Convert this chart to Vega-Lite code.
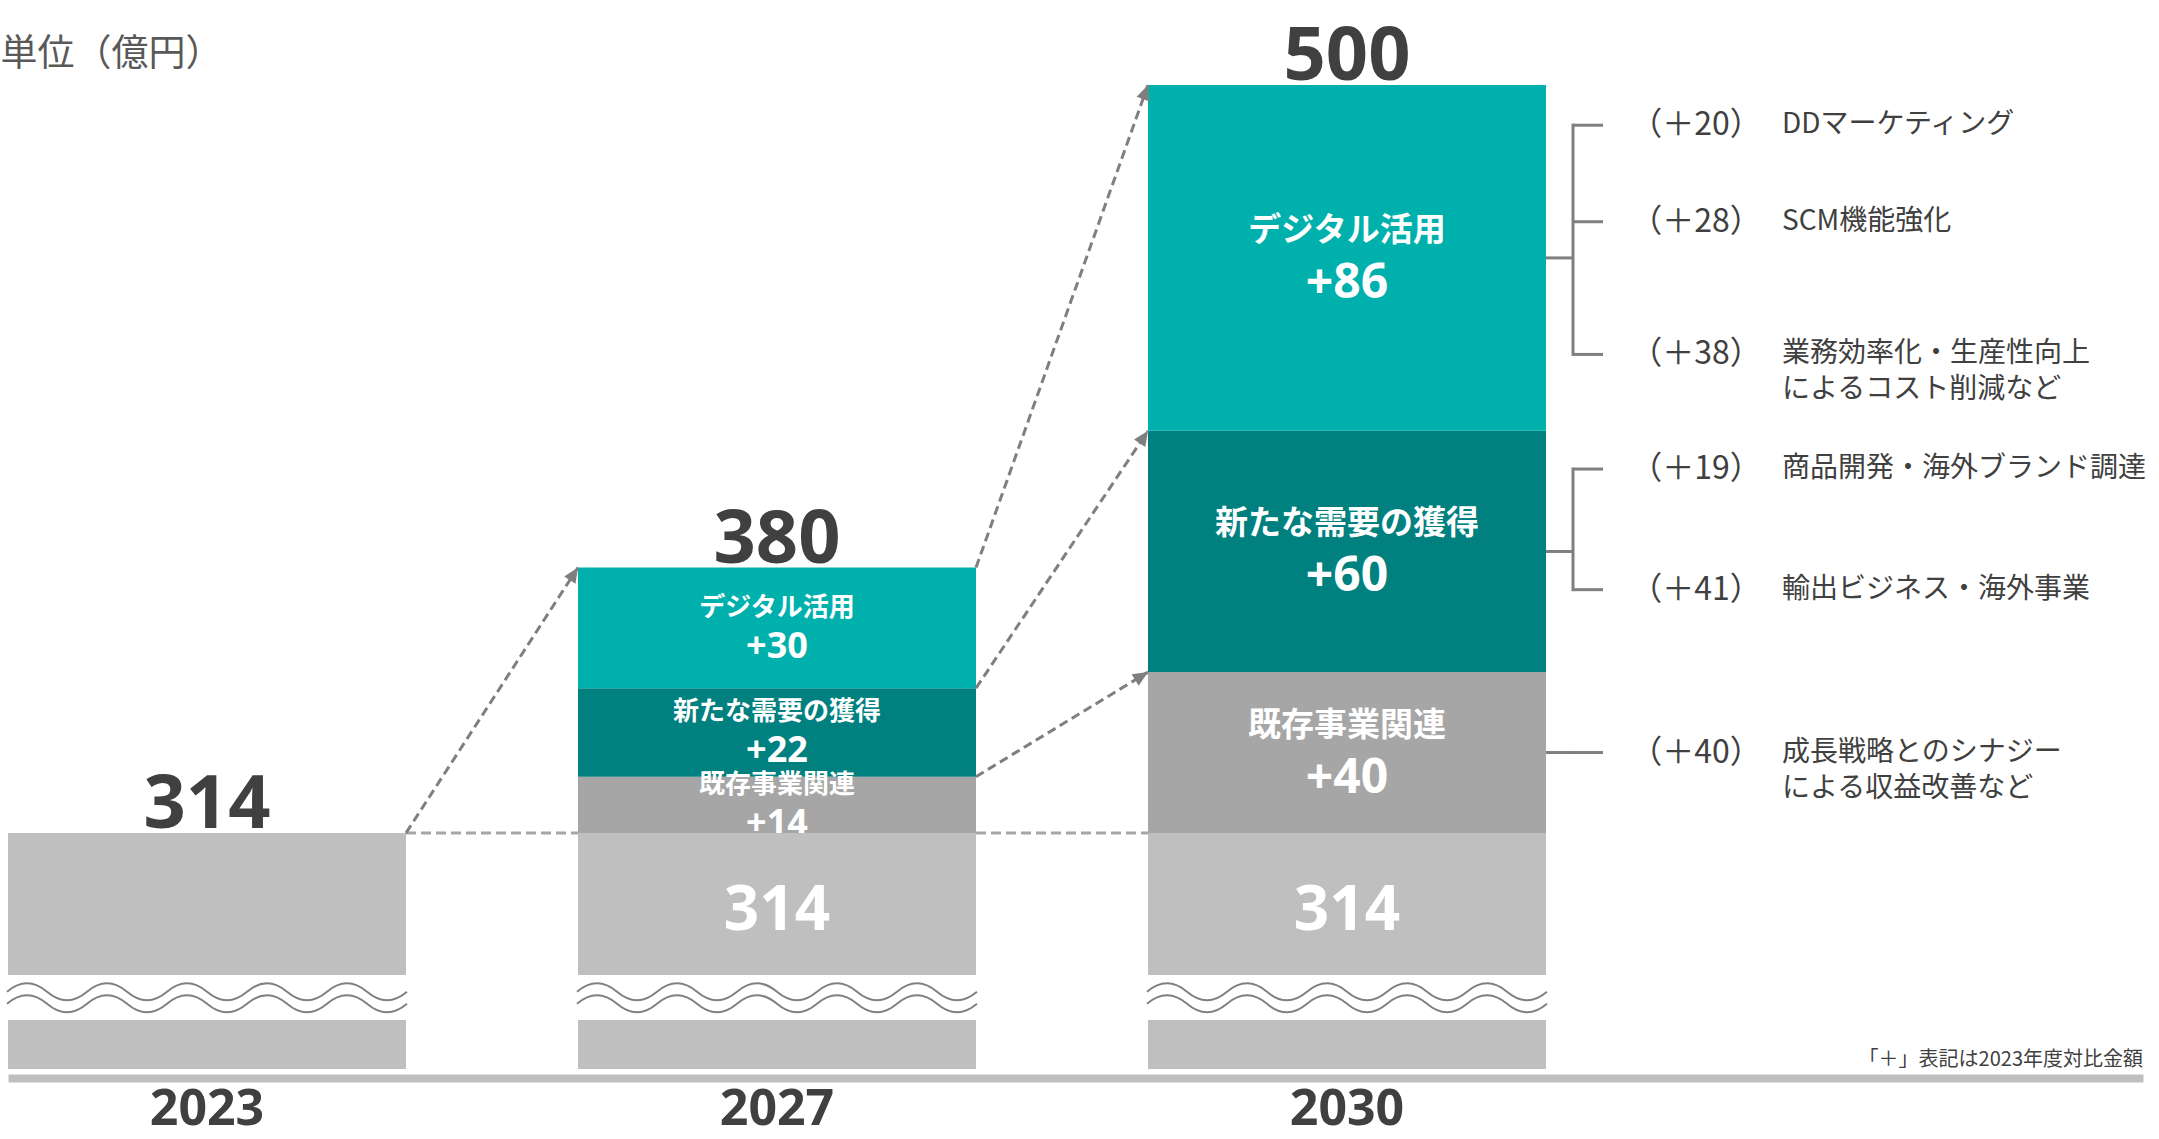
{
  "$schema": "https://vega.github.io/schema/vega-lite/v6.json",
  "width": 2135,
  "height": 1069,
  "autosize": {"type": "none"},
  "padding": {"left": 8, "top": 0, "right": 16, "bottom": 70},
  "background": "white",
  "config": {"view": {"stroke": null}},
  "datasets": {
    "segments": [
      {"year": "2023", "cat": "base", "k": 0, "value": 314},
      {"year": "2027", "cat": "base", "k": 0, "value": 314},
      {"year": "2027", "cat": "既存事業関連", "k": 1, "value": 14},
      {"year": "2027", "cat": "新たな需要の獲得", "k": 2, "value": 22},
      {"year": "2027", "cat": "デジタル活用", "k": 3, "value": 30},
      {"year": "2030", "cat": "base", "k": 0, "value": 314},
      {"year": "2030", "cat": "既存事業関連", "k": 1, "value": 40},
      {"year": "2030", "cat": "新たな需要の獲得", "k": 2, "value": 60},
      {"year": "2030", "cat": "デジタル活用", "k": 3, "value": 86}
    ],
    "items": [
      {"year": "2030", "cat": "base", "k": 0, "amt": 314, "desc": ""},
      {"year": "2030", "cat": "既存事業関連", "k": 1, "amt": 40, "desc": ["成長戦略とのシナジー", "による収益改善など"]},
      {"year": "2030", "cat": "新たな需要の獲得", "k": 2, "amt": 41, "desc": "輸出ビジネス・海外事業"},
      {"year": "2030", "cat": "新たな需要の獲得", "k": 3, "amt": 19, "desc": "商品開発・海外ブランド調達"},
      {"year": "2030", "cat": "デジタル活用", "k": 4, "amt": 38, "desc": ["業務効率化・生産性向上", "によるコスト削減など"]},
      {"year": "2030", "cat": "デジタル活用", "k": 5, "amt": 28, "desc": "SCM機能強化"},
      {"year": "2030", "cat": "デジタル活用", "k": 6, "amt": 20, "desc": "DDマーケティング"}
    ],
    "links": [
      {"from": "2023", "to": "2027", "y0": 314, "y1": 380},
      {"from": "2027", "to": "2030", "y0": 380, "y1": 500},
      {"from": "2027", "to": "2030", "y0": 350, "y1": 414},
      {"from": "2027", "to": "2030", "y0": 328, "y1": 354}
    ],
    "level": [{"from": "2023", "to": "2030", "value": 314}]
  },
  "layer": [
    {
      "data": {"name": "segments"},
      "transform": [
        {"stack": "value", "groupby": ["year"], "sort": [{"field": "k", "order": "ascending"}], "as": ["v0", "v1"]}
      ],
      "mark": {"type": "bar"},
      "encoding": {
        "x": {
          "field": "year", "type": "nominal",
          "scale": {"type": "band", "domain": ["2023", "2027", "2030"], "paddingInner": 0.301754, "paddingOuter": 0.523684, "align": 0, "round": false},
          "axis": {
            "title": null, "orient": "bottom", "offset": 9, "domain": true, "domainColor": "#BFBFBF", "domainWidth": 8,
            "ticks": false, "tickSize": 0, "grid": false, "labelAngle": 0,
            "labelFont": "Noto Sans", "labelFontSize": 50, "labelFontWeight": "bold", "labelColor": "#404040",
            "labelPadding": 31, "labelBaseline": "middle"
          }
        },
        "y": {
          "field": "v1", "type": "quantitative",
          "scale": {"domain": [255.3, 521.14], "clamp": true, "zero": false, "nice": false},
          "axis": {
            "title": "単位（億円）", "titleAngle": 0, "titleAlign": "left", "titleBaseline": "middle",
            "titleX": -8, "titleY": 54, "titleFont": "Noto Sans CJK JP", "titleFontSize": 37,
            "titleFontWeight": "normal", "titleColor": "#595959",
            "labels": false, "ticks": false, "domain": false, "grid": false
          }
        },
        "y2": {"field": "v0"},
        "color": {
          "field": "cat", "type": "nominal",
          "scale": {"domain": ["base", "既存事業関連", "新たな需要の獲得", "デジタル活用"], "range": ["#BFBFBF", "#A6A6A6", "#00807F", "#00B0AD"]},
          "legend": null
        }
      }
    },
    {
      "data": {"name": "level"},
      "mark": {"type": "rule", "color": "#A6A6A6", "strokeWidth": 3, "strokeDash": [10, 5]},
      "encoding": {
        "x": {"field": "from", "type": "nominal", "bandPosition": 1},
        "x2": {"field": "to", "bandPosition": 0},
        "y": {"field": "value", "type": "quantitative"}
      }
    },
    {
      "data": {"name": "segments"},
      "transform": [
        {"stack": "value", "groupby": ["year"], "sort": [{"field": "k", "order": "ascending"}], "as": ["v0", "v1"]},
        {"calculate": "(datum.v0 + datum.v1) / 2", "as": "mid"},
        {"filter": "datum.year == '2027' && datum.cat != 'base'"}
      ],
      "mark": {"type": "text", "font": "Noto Sans CJK JP", "fontWeight": "bold", "fontSize": 26, "color": "white", "baseline": "middle", "dy": -20},
      "encoding": {
        "x": {"field": "year", "type": "nominal"},
        "y": {"field": "mid", "type": "quantitative"},
        "text": {"field": "cat"}
      }
    },
    {
      "data": {"name": "segments"},
      "transform": [
        {"stack": "value", "groupby": ["year"], "sort": [{"field": "k", "order": "ascending"}], "as": ["v0", "v1"]},
        {"calculate": "(datum.v0 + datum.v1) / 2", "as": "mid"},
        {"calculate": "'+' + datum.value", "as": "lbl"},
        {"filter": "datum.year == '2027' && datum.cat != 'base'"}
      ],
      "mark": {"type": "text", "font": "Noto Sans", "fontWeight": "bold", "fontSize": 36, "color": "white", "baseline": "middle", "dy": 19},
      "encoding": {
        "x": {"field": "year", "type": "nominal"},
        "y": {"field": "mid", "type": "quantitative"},
        "text": {"field": "lbl"}
      }
    },
    {
      "data": {"name": "segments"},
      "transform": [
        {"stack": "value", "groupby": ["year"], "sort": [{"field": "k", "order": "ascending"}], "as": ["v0", "v1"]},
        {"filter": "datum.cat == 'base'"}
      ],
      "mark": {"type": "bar", "color": "#BFBFBF"},
      "encoding": {
        "x": {"field": "year", "type": "nominal"},
        "y": {"field": "v1", "type": "quantitative"},
        "y2": {"field": "v0"}
      }
    },
    {
      "data": {"name": "segments"},
      "transform": [{"filter": "datum.cat == 'base'"}],
      "mark": {"type": "bar", "color": "white"},
      "encoding": {
        "x": {"field": "year", "type": "nominal"},
        "y": {"datum": 278.7},
        "y2": {"datum": 267.5}
      }
    },
    {
      "data": {"name": "segments"},
      "transform": [{"filter": "datum.cat == 'base'"}],
      "mark": {
        "type": "point",
        "shape": "M-1,-0.03Q-0.9,-0.115,-0.8,-0.03T-0.6,-0.03T-0.4,-0.03T-0.2,-0.03T0,-0.03T0.2,-0.03T0.4,-0.03T0.6,-0.03T0.8,-0.03T1,-0.03M-1,0.03Q-0.9,-0.055,-0.8,0.03T-0.6,0.03T-0.4,0.03T-0.2,0.03T0,0.03T0.2,0.03T0.4,0.03T0.6,0.03T0.8,0.03T1,0.03",
        "size": 160000, "filled": false, "color": "#808080", "strokeWidth": 2, "opacity": 1
      },
      "encoding": {
        "x": {"field": "year", "type": "nominal"},
        "y": {"datum": 273}
      }
    },
    {
      "data": {"name": "links"},
      "mark": {"type": "rule", "color": "#7F7F7F", "strokeWidth": 3, "strokeDash": [9, 5]},
      "encoding": {
        "x": {"field": "from", "type": "nominal", "bandPosition": 1},
        "x2": {"field": "to", "bandPosition": 0},
        "y": {"field": "y0", "type": "quantitative"},
        "y2": {"field": "y1"}
      }
    },
    {
      "data": {"name": "links"},
      "mark": {
        "type": "point", "shape": "M0,0L-0.45,1L0.45,1Z", "size": 900, "filled": true, "color": "#7F7F7F", "opacity": 1,
        "angle": {"expr": "atan2(scale('x', datum.to) - scale('x', datum.from) - bandwidth('x'), scale('y', datum.y0) - scale('y', datum.y1)) * 180 / PI"}
      },
      "encoding": {
        "x": {"field": "to", "type": "nominal", "bandPosition": 0},
        "y": {"field": "y1", "type": "quantitative"}
      }
    },
    {
      "data": {"name": "segments"},
      "transform": [{"aggregate": [{"op": "sum", "field": "value", "as": "total"}], "groupby": ["year"]}],
      "mark": {"type": "text", "font": "Noto Sans", "fontWeight": "bold", "fontSize": 74, "color": "#404040", "baseline": "alphabetic", "dy": -5},
      "encoding": {
        "x": {"field": "year", "type": "nominal"},
        "y": {"field": "total", "type": "quantitative"},
        "text": {"field": "total"}
      }
    },
    {
      "data": {"name": "segments"},
      "transform": [
        {"stack": "value", "groupby": ["year"], "sort": [{"field": "k", "order": "ascending"}], "as": ["v0", "v1"]},
        {"calculate": "(datum.v0 + datum.v1) / 2", "as": "mid"},
        {"filter": "datum.year == '2030' && datum.cat != 'base'"}
      ],
      "mark": {"type": "text", "font": "Noto Sans CJK JP", "fontWeight": "bold", "fontSize": 33, "color": "white", "baseline": "middle", "dy": -27},
      "encoding": {
        "x": {"field": "year", "type": "nominal"},
        "y": {"field": "mid", "type": "quantitative"},
        "text": {"field": "cat"}
      }
    },
    {
      "data": {"name": "segments"},
      "transform": [
        {"stack": "value", "groupby": ["year"], "sort": [{"field": "k", "order": "ascending"}], "as": ["v0", "v1"]},
        {"calculate": "(datum.v0 + datum.v1) / 2", "as": "mid"},
        {"calculate": "'+' + datum.value", "as": "lbl"},
        {"filter": "datum.year == '2030' && datum.cat != 'base'"}
      ],
      "mark": {"type": "text", "font": "Noto Sans", "fontWeight": "bold", "fontSize": 48, "color": "white", "baseline": "middle", "dy": 26},
      "encoding": {
        "x": {"field": "year", "type": "nominal"},
        "y": {"field": "mid", "type": "quantitative"},
        "text": {"field": "lbl"}
      }
    },
    {
      "data": {"name": "segments"},
      "transform": [
        {"stack": "value", "groupby": ["year"], "sort": [{"field": "k", "order": "ascending"}], "as": ["v0", "v1"]},
        {"filter": "datum.cat == 'base' && datum.year != '2023'"}
      ],
      "mark": {"type": "text", "font": "Noto Sans", "fontWeight": "bold", "fontSize": 62, "color": "white", "baseline": "middle", "dy": 78},
      "encoding": {
        "x": {"field": "year", "type": "nominal"},
        "y": {"field": "v1", "type": "quantitative"},
        "text": {"field": "value"}
      }
    },
    {
      "data": {"name": "segments"},
      "transform": [
        {"stack": "value", "groupby": ["year"], "sort": [{"field": "k", "order": "ascending"}], "as": ["v0", "v1"]},
        {"calculate": "(datum.v0 + datum.v1) / 2", "as": "mid"},
        {"filter": "datum.year == '2030' && datum.cat != 'base'"}
      ],
      "mark": {"type": "rule", "color": "#7F7F7F", "strokeWidth": 3, "x2Offset": 27},
      "encoding": {
        "x": {"field": "year", "type": "nominal", "bandPosition": 1},
        "x2": {"field": "year", "bandPosition": 1},
        "y": {"field": "mid", "type": "quantitative"}
      }
    },
    {
      "data": {"name": "items"},
      "transform": [
        {"stack": "amt", "groupby": ["year"], "sort": [{"field": "k", "order": "ascending"}], "as": ["s0", "s1"]},
        {"calculate": "(datum.s0 + datum.s1) / 2", "as": "mid"},
        {"filter": "datum.cat != 'base'"},
        {"aggregate": [{"op": "min", "field": "mid", "as": "lo"}, {"op": "max", "field": "mid", "as": "hi"}], "groupby": ["year", "cat"]}
      ],
      "mark": {"type": "rule", "color": "#7F7F7F", "strokeWidth": 3, "strokeCap": "square", "xOffset": 27},
      "encoding": {
        "x": {"field": "year", "type": "nominal", "bandPosition": 1},
        "y": {"field": "lo", "type": "quantitative"},
        "y2": {"field": "hi"}
      }
    },
    {
      "data": {"name": "items"},
      "transform": [
        {"stack": "amt", "groupby": ["year"], "sort": [{"field": "k", "order": "ascending"}], "as": ["s0", "s1"]},
        {"calculate": "(datum.s0 + datum.s1) / 2", "as": "mid"},
        {"filter": "datum.cat != 'base'"}
      ],
      "mark": {"type": "rule", "color": "#7F7F7F", "strokeWidth": 3, "xOffset": 27, "x2Offset": 57},
      "encoding": {
        "x": {"field": "year", "type": "nominal", "bandPosition": 1},
        "x2": {"field": "year", "bandPosition": 1},
        "y": {"field": "mid", "type": "quantitative"}
      }
    },
    {
      "data": {"name": "items"},
      "transform": [
        {"stack": "amt", "groupby": ["year"], "sort": [{"field": "k", "order": "ascending"}], "as": ["s0", "s1"]},
        {"calculate": "(datum.s0 + datum.s1) / 2", "as": "mid"},
        {"calculate": "'（＋' + datum.amt + '）'", "as": "amtLabel"},
        {"filter": "datum.cat != 'base'"}
      ],
      "mark": {"type": "text", "font": "Noto Sans CJK JP", "fontSize": 32, "color": "#404040", "align": "center", "baseline": "middle", "dx": 150},
      "encoding": {
        "x": {"field": "year", "type": "nominal", "bandPosition": 1},
        "y": {"field": "mid", "type": "quantitative"},
        "text": {"field": "amtLabel"}
      }
    },
    {
      "data": {"name": "items"},
      "transform": [
        {"stack": "amt", "groupby": ["year"], "sort": [{"field": "k", "order": "ascending"}], "as": ["s0", "s1"]},
        {"calculate": "(datum.s0 + datum.s1) / 2", "as": "mid"},
        {"filter": "datum.cat != 'base'"}
      ],
      "mark": {"type": "text", "font": "Noto Sans CJK JP", "fontSize": 28, "lineHeight": 36, "color": "#404040", "align": "left", "baseline": "middle", "dx": 236},
      "encoding": {
        "x": {"field": "year", "type": "nominal", "bandPosition": 1},
        "y": {"field": "mid", "type": "quantitative"},
        "text": {"field": "desc"}
      }
    },
    {
      "data": {"values": [{"note": "「＋」表記は2023年度対比金額"}]},
      "mark": {"type": "text", "font": "Noto Sans CJK JP", "fontSize": 20, "color": "#404040", "align": "right", "baseline": "alphabetic", "dy": -3},
      "encoding": {
        "x": {"value": "width"},
        "y": {"value": "height"},
        "text": {"field": "note"}
      }
    }
  ]
}
